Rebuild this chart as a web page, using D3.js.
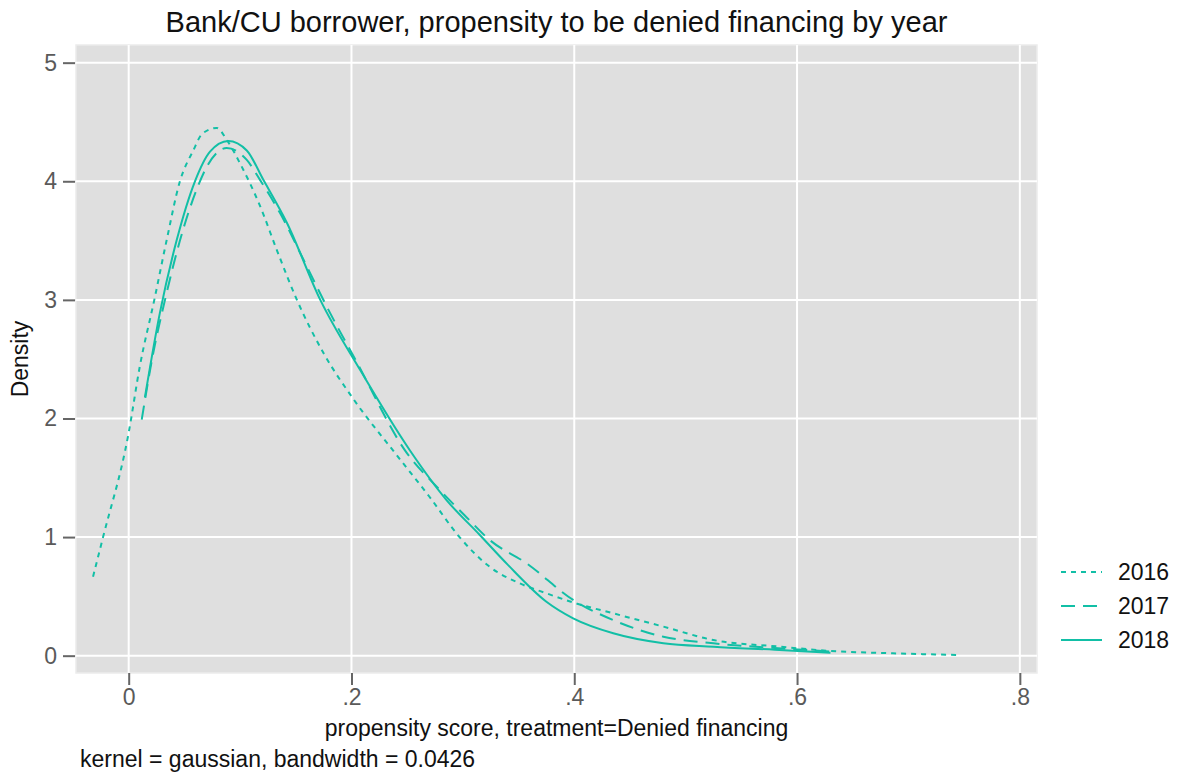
<!DOCTYPE html>
<html>
<head>
<meta charset="utf-8">
<script src="https://cdn.jsdelivr.net/npm/d3@7"></script>
<style>
  html, body { margin: 0; padding: 0; background: #ffffff; }
  svg { display: block; font-family: "Liberation Sans", Arial, Helvetica, sans-serif; }
</style>
</head>
<body>
<svg id="chart" width="1178" height="777"></svg>
<script>
// Kernel density estimates of the propensity score, one per survey year
const years = ["2016", "2017", "2018"];

const score2016 = [-0.032, -0.023, 0.0, 0.010, 0.023, 0.034, 0.046, 0.058, 0.066, 0.079, 0.088, 0.100, 0.118, 0.133, 0.151, 0.175, 0.202, 0.239, 0.270, 0.297, 0.324, 0.351, 0.375, 0.402, 0.435, 0.480, 0.525, 0.585, 0.627, 0.686, 0.746];
const density2016 = [0.666, 1.0, 1.88, 2.44, 3.0, 3.5, 4.0, 4.26, 4.40, 4.45, 4.35, 4.15, 3.79, 3.42, 3.0, 2.55, 2.16, 1.71, 1.34, 1.0, 0.75, 0.61, 0.526, 0.44, 0.357, 0.245, 0.132, 0.076, 0.042, 0.02, 0.006];

const score2017 = [0.0117, 0.022, 0.0326, 0.046, 0.061, 0.070, 0.088, 0.106, 0.118, 0.136, 0.160, 0.178, 0.205, 0.2496, 0.2765, 0.303, 0.324, 0.357, 0.399, 0.435, 0.480, 0.525, 0.58, 0.632];
const density2017 = [1.99, 2.55, 3.0, 3.5, 3.93, 4.12, 4.28, 4.18, 4.01, 3.73, 3.28, 2.94, 2.47, 1.71, 1.425, 1.17, 0.976, 0.78, 0.47, 0.30, 0.16, 0.104, 0.065, 0.034];

const score2018 = [0.0146, 0.028, 0.043, 0.0595, 0.073, 0.0894, 0.106, 0.121, 0.142, 0.172, 0.2077, 0.2525, 0.2855, 0.315, 0.340, 0.375, 0.399, 0.435, 0.480, 0.525, 0.58, 0.63];
const density2018 = [2.18, 2.89, 3.5, 4.0, 4.25, 4.34, 4.26, 4.01, 3.65, 3.0, 2.41, 1.73, 1.31, 1.02, 0.77, 0.455, 0.315, 0.189, 0.105, 0.076, 0.05, 0.025];

const xTicks = [0, 0.2, 0.4, 0.6, 0.8];
const xTickLabels = ["0", ".2", ".4", ".6", ".8"];
const yTicks = [0, 1, 2, 3, 4, 5];

const seriesScores = [score2016, score2017, score2018];
const seriesDensities = [density2016, density2017, density2018];
const dashes = ["5,5", "14,8", null];

const titleText = "Bank/CU borrower, propensity to be denied financing by year";
const xTitle = "propensity score, treatment=Denied financing";
const yTitle = "Density";
const noteText = "kernel = gaussian, bandwidth = 0.0426";

const lineColor = "#12bfa6";
const fontFam = "Liberation Sans, Arial, sans-serif";

const svg = d3.select("#chart");
const plot = { left: 76, right: 1037, top: 45, bottom: 673 };

const x = d3.scaleLinear().domain([-0.0473, 0.8154]).range([plot.left, plot.right]);
const y = d3.scaleLinear().domain([-0.146, 5.149]).range([plot.bottom, plot.top]);

// plot region
svg.append("rect")
  .attr("x", plot.left).attr("y", plot.top)
  .attr("width", plot.right - plot.left).attr("height", plot.bottom - plot.top)
  .attr("fill", "#dfdfdf").attr("stroke", "#ececec").attr("stroke-width", 1.5);

// gridlines
const grid = svg.append("g");
grid.selectAll("line.gx").data(xTicks).join("line")
  .attr("x1", d => x(d)).attr("x2", d => x(d))
  .attr("y1", plot.top).attr("y2", plot.bottom)
  .attr("stroke", "#ffffff").attr("stroke-width", 2);
grid.selectAll("line.gy").data(yTicks).join("line")
  .attr("x1", plot.left).attr("x2", plot.right)
  .attr("y1", d => y(d)).attr("y2", d => y(d))
  .attr("stroke", "#ffffff").attr("stroke-width", 2);

// axes
const xAxis = d3.axisBottom(x).tickValues(xTicks)
  .tickFormat((d, i) => xTickLabels[i]).tickSize(12).tickPadding(4);
const gx = svg.append("g").attr("transform", `translate(0,${plot.bottom})`).call(xAxis);
gx.select(".domain").remove();
gx.selectAll(".tick line").attr("stroke", "#666666").attr("stroke-width", 2);
gx.selectAll(".tick text").attr("fill", "#5a5a5a").attr("font-size", 23)
  .attr("font-family", fontFam);

const yAxis = d3.axisLeft(y).tickValues(yTicks).tickFormat(d3.format("d"))
  .tickSize(12).tickPadding(6);
const gy = svg.append("g").attr("transform", `translate(${plot.left - 1},0)`).call(yAxis);
gy.select(".domain").remove();
gy.selectAll(".tick line").attr("stroke", "#666666").attr("stroke-width", 2);
gy.selectAll(".tick text").attr("fill", "#5a5a5a").attr("font-size", 23)
  .attr("font-family", fontFam);

// density curves
const line = d3.line()
  .x(d => x(d[0])).y(d => y(d[1]))
  .curve(d3.curveMonotoneX);

const curves = svg.append("g");
years.forEach((yr, i) => {
  const pts = d3.zip(seriesScores[i], seriesDensities[i]);
  curves.append("path")
    .datum(pts)
    .attr("d", line)
    .attr("fill", "none")
    .attr("stroke", lineColor)
    .attr("stroke-width", 2)
    .attr("stroke-dasharray", dashes[i]);
});

// legend
const legend = svg.append("g");
const legendY = [572, 606, 640];
years.forEach((yr, i) => {
  legend.append("line")
    .attr("x1", 1061).attr("x2", 1102)
    .attr("y1", legendY[i]).attr("y2", legendY[i])
    .attr("stroke", lineColor).attr("stroke-width", 2)
    .attr("stroke-dasharray", dashes[i]);
  legend.append("text")
    .attr("x", 1118).attr("y", legendY[i] + 8)
    .attr("font-size", 23).attr("fill", "#111111")
    .text(yr);
});

// titles
svg.append("text")
  .attr("x", (plot.left + plot.right) / 2).attr("y", 32)
  .attr("text-anchor", "middle").attr("font-size", 29).attr("fill", "#111111")
  .text(titleText);

svg.append("text")
  .attr("x", (plot.left + plot.right) / 2).attr("y", 736)
  .attr("text-anchor", "middle").attr("font-size", 23).attr("fill", "#111111")
  .text(xTitle);

svg.append("text")
  .attr("transform", `translate(28,${(plot.top + plot.bottom) / 2}) rotate(-90)`)
  .attr("text-anchor", "middle").attr("font-size", 23).attr("fill", "#111111")
  .text(yTitle);

svg.append("text")
  .attr("x", 80).attr("y", 767)
  .attr("font-size", 23).attr("fill", "#111111")
  .text(noteText);
</script>
</body>
</html>
